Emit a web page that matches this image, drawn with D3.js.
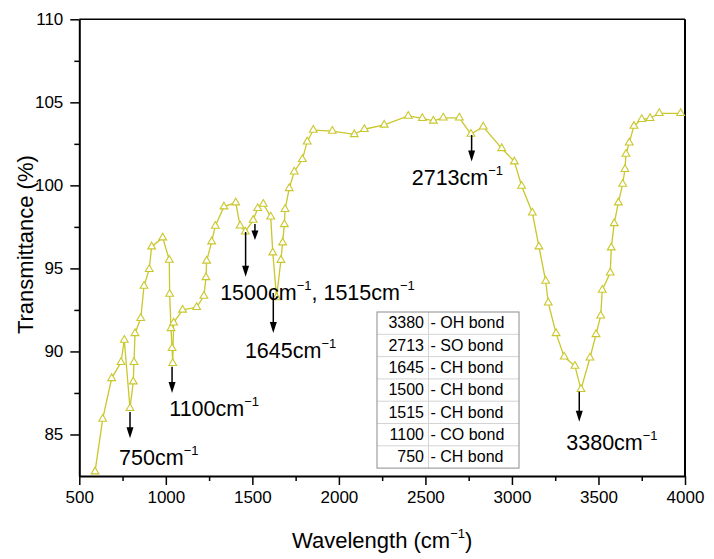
<!DOCTYPE html>
<html>
<head>
<meta charset="utf-8">
<script src="https://cdnjs.cloudflare.com/ajax/libs/d3/7.8.5/d3.min.js"></script>
<style>
  body { margin: 0; background: #fff; }
  svg { display: block; font-family: "Liberation Sans", Arial, sans-serif; }
</style>
</head>
<body>
<div id="chart"></div>
<script>
// FTIR spectrum, values
const wavenumber = [591, 635, 687, 741, 760, 793, 812, 816, 822, 855, 874, 904, 918, 982,
    1020, 1022, 1030, 1036, 1040, 1045, 1097, 1178, 1220, 1232, 1236, 1265, 1286, 1336,
    1404, 1429, 1459, 1505, 1531, 1563, 1606, 1618, 1640, 1665, 1675, 1685, 1689, 1713,
    1742, 1789, 1817, 1852, 1962, 2089, 2147, 2262, 2401, 2482, 2546, 2603, 2696, 2763,
    2834, 2941, 3014, 3056, 3118, 3156, 3195, 3210, 3255, 3302, 3364, 3399, 3451, 3486,
    3513, 3522, 3568, 3574, 3591, 3615, 3640, 3653, 3659, 3678, 3705, 3750, 3798, 3851, 3975];
const transmittance = [82.76, 85.93, 88.38, 89.35, 90.69, 86.58, 88.18, 89.35, 91.09, 92.0, 93.94, 94.95, 96.31, 96.85,
    95.51, 93.46, 91.39, 90.19, 89.29, 91.73, 92.5, 92.66, 93.34, 94.46, 95.45, 96.61, 97.55, 98.72,
    98.96, 97.57, 97.21, 97.91, 98.62, 98.88, 98.11, 95.95, 93.25, 95.5, 96.55, 97.65, 98.56, 99.82,
    100.82, 101.57, 102.63, 103.33, 103.27, 103.07, 103.38, 103.64, 104.18, 104.04, 103.88, 104.07, 104.07, 103.09,
    103.53, 102.23, 101.43, 99.96, 98.35, 96.31, 94.24, 92.93, 91.09, 89.68, 89.12, 87.72, 89.62, 91.03,
    92.15, 93.7, 94.74, 96.25, 97.71, 98.96, 100.08, 100.97, 101.89, 102.57, 103.57, 103.98, 104.04, 104.34, 104.34];

const xTicks = [500, 1000, 1500, 2000, 2500, 3000, 3500, 4000];
const xMinor = [750, 1250, 1750, 2250, 2750, 3250, 3750];
const yTicks = [85, 90, 95, 100, 105, 110];
const yMinor = [87.5, 92.5, 97.5, 102.5, 107.5];

// arrows: x, top, bottom of arrow; label anchor (left, baseline) in data units
const peakX = [793, 1036, 1461, 1515, 1621, 2767, 3389];
const peakTop = [86.36, 89.08, 97.19, 97.67, 93.52, 103.03, 87.58];
const peakBottom = [84.77, 87.5, 94.5, 96.71, 91.11, 101.43, 85.77];
const labelText = [["750"], ["1100"], ["1500", "1515"], null, ["1645"], ["2713"], ["3380"]];
const labelX = [730, 1020, 1314, null, 1457, 2421, 3314];
const labelY = [83.16, 86.11, 93.1, null, 89.59, 100.02, 84.07];

const bondWave = ["3380", "2713", "1645", "1500", "1515", "1100", "750"];
const bondName = ["OH", "SO", "CH", "CH", "CH", "CO", "CH"];

const width = 714;
const height = 559;
const margin = { top: 19.3, right: 29, bottom: 83, left: 79.3 };
const lineColor = "#c9c72c";

var svg = d3.select("#chart")
    .append("svg")
    .attr("width", width)
    .attr("height", height);

var x = d3.scaleLinear()
    .domain([500, 4000])
    .range([margin.left, width - margin.right]);

var y = d3.scaleLinear()
    .domain([82.5, 110])
    .range([height - margin.bottom, margin.top]);

// frame on top and right
svg.append("line")
    .attr("x1", x(500)).attr("x2", x(4000))
    .attr("y1", y(110)).attr("y2", y(110))
    .attr("stroke", "#000").attr("stroke-width", 1.5);
svg.append("line")
    .attr("x1", x(4000)).attr("x2", x(4000))
    .attr("y1", y(110)).attr("y2", y(82.5))
    .attr("stroke", "#000").attr("stroke-width", 2);

// axes
svg.append("g")
    .attr("transform", "translate(0," + y(82.5) + ")")
    .call(d3.axisBottom(x).tickValues(xTicks).tickFormat(d3.format("d"))
        .tickSize(9).tickSizeOuter(0).tickPadding(6));
svg.append("g")
    .attr("transform", "translate(0," + y(82.5) + ")")
    .call(d3.axisBottom(x).tickValues(xMinor).tickSize(5).tickFormat(""))
    .select(".domain").remove();

svg.append("g")
    .attr("transform", "translate(" + x(500) + ",0)")
    .call(d3.axisLeft(y).tickValues(yTicks).tickFormat(d3.format("d"))
        .tickSize(9).tickSizeOuter(0).tickPadding(7));
svg.append("g")
    .attr("transform", "translate(" + x(500) + ",0)")
    .call(d3.axisLeft(y).tickValues(yMinor).tickSize(5).tickFormat(""))
    .select(".domain").remove();

svg.selectAll(".domain").attr("stroke-width", 2).attr("stroke", "#000");
svg.selectAll(".tick line").attr("stroke-width", 1.5).attr("stroke", "#000");
svg.selectAll(".tick text")
    .attr("font-family", "Liberation Sans, Arial, sans-serif")
    .attr("font-size", 17)
    .attr("fill", "#000");

// axis titles
let xTitle = svg.append("text")
    .attr("x", (x(500) + x(4000)) / 2)
    .attr("y", 548)
    .attr("text-anchor", "middle")
    .attr("font-size", 22);
xTitle.append("tspan").text("Wavelength (cm");
xTitle.append("tspan").attr("font-size", 13).attr("dy", -10).text("\u22121");
xTitle.append("tspan").attr("dy", 10).text(")");

svg.append("text")
    .attr("transform", "translate(33," + ((y(82.5) + y(110)) / 2 - 3) + ")rotate(-90)")
    .attr("text-anchor", "middle")
    .attr("font-size", 22)
    .text("Transmittance (%)");

// spectrum
let points = wavenumber.map(function (w, i) { return [w, transmittance[i]]; });

svg.append("path")
    .datum(points)
    .attr("fill", "none")
    .attr("stroke", lineColor)
    .attr("stroke-width", 1.3)
    .attr("d", d3.line().x(function (d) { return x(d[0]); }).y(function (d) { return y(d[1]); }));

svg.selectAll(".marker")
    .data(points)
    .enter()
    .append("path")
    .attr("class", "marker")
    .attr("transform", function (d) { return "translate(" + x(d[0]) + "," + y(d[1]) + ")"; })
    .attr("d", d3.symbol().type(d3.symbolTriangle).size(26))
    .attr("fill", "#fff")
    .attr("stroke", lineColor)
    .attr("stroke-width", 1.1);

// peak arrows
peakX.forEach(function (px, i) {
    let xp = x(px);
    let top = y(peakTop[i]);
    let bottom = y(peakBottom[i]);
    let head = Math.min(11, (bottom - top) * 0.6);
    svg.append("line")
        .attr("x1", xp).attr("x2", xp)
        .attr("y1", top).attr("y2", bottom - head + 1)
        .attr("stroke", "#000").attr("stroke-width", 1.5);
    svg.append("path")
        .attr("d", "M" + (xp - 3.5) + "," + (bottom - head) + "L" + (xp + 3.5) + "," + (bottom - head) + "L" + xp + "," + bottom + "Z")
        .attr("fill", "#000");

    if (labelText[i] === null) return;
    let t = svg.append("text")
        .attr("x", x(labelX[i]))
        .attr("y", y(labelY[i]))
        .attr("font-size", 21.5);
    labelText[i].forEach(function (v, j) {
        t.append("tspan").attr("dy", j === 0 ? 0 : 10).text((j === 0 ? "" : ", ") + v + "cm");
        t.append("tspan").attr("font-size", 13).attr("dy", -10).text("\u22121");
    });
});

// bond table
let tableLeft = 377, tableTop = 312, rowH = 22.3, colSplit = 428.5, tableRight = 519;
let table = svg.append("g");
bondWave.forEach(function (w, i) {
    let ry = tableTop + i * rowH;
    if (i > 0) {
        table.append("line")
            .attr("x1", tableLeft).attr("x2", tableRight)
            .attr("y1", ry).attr("y2", ry)
            .attr("stroke", "#d4d4d4").attr("stroke-width", 1);
    }
    table.append("text")
        .attr("x", colSplit - 4.5)
        .attr("y", ry + 16.3)
        .attr("text-anchor", "end")
        .attr("font-size", 16)
        .text(w);
    table.append("text")
        .attr("x", colSplit + 2)
        .attr("y", ry + 16.3)
        .attr("font-size", 16)
        .text("- " + bondName[i] + " bond");
});
table.append("line")
    .attr("x1", colSplit).attr("x2", colSplit)
    .attr("y1", tableTop).attr("y2", tableTop + rowH * bondWave.length)
    .attr("stroke", "#d4d4d4").attr("stroke-width", 1);
table.append("rect")
    .attr("x", tableLeft).attr("y", tableTop)
    .attr("width", tableRight - tableLeft)
    .attr("height", rowH * bondWave.length)
    .attr("fill", "none")
    .attr("stroke", "#8c8c8c").attr("stroke-width", 1);
</script>
</body>
</html>
